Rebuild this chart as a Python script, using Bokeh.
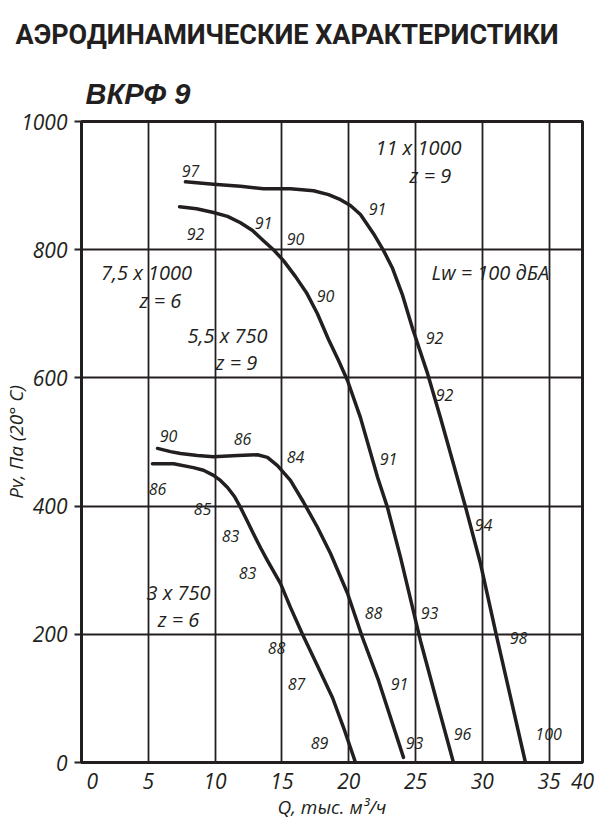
from bokeh.plotting import figure
from bokeh.models import Label, FixedTicker, Range1d, Title
from bokeh.embed import file_html
from bokeh.resources import INLINE

# ---- data (Q in thousand m3/h, Pv in Pa) ----
q_a = [7.78, 9.88, 11.9, 13.62, 15.64, 17.37, 18.49, 19.39, 20.13, 20.88, 21.86, 22.60, 23.28, 24.03,
       24.78, 25.90, 26.87, 28.74, 29.87, 31.06, 33.23]
p_a = [906, 902, 899, 895, 895, 892, 886, 878, 869, 855, 825, 799, 771, 729,
       677, 607, 538, 399, 310, 198, 0]

q_b = [7.34, 8.61, 9.88, 10.93, 11.90, 12.80, 13.62, 14.37, 15.12, 16.02, 16.84, 17.66, 18.49, 19.24,
       19.91, 20.88, 22.16, 22.90, 23.88, 25.37, 26.57, 27.84]
p_b = [867, 864, 858, 852, 842, 830, 814, 800, 783, 758, 733, 700, 660, 627,
       596, 538, 445, 398, 320, 190, 97, 0]

q_c = [5.69, 6.66, 7.41, 8.68, 9.88, 11.68, 13.17, 13.92, 14.67, 15.64, 16.62, 17.66, 18.64, 19.91,
       21.03, 22.23, 24.10]
p_c = [490, 485, 482, 479, 477, 479, 480, 476, 463, 440, 406, 367, 326, 264,
       195, 128, 8]

q_d = [5.31, 6.89, 8.38, 9.13, 9.88, 10.40, 10.93, 11.45, 11.90, 12.35, 12.87, 13.40, 13.92, 14.90,
       15.64, 16.54, 17.66, 18.79, 19.69, 20.51]
p_d = [466, 466, 460, 456, 448, 440, 429, 415, 398, 379, 357, 335, 315, 279,
       242, 200, 151, 101, 50, 0]

lw_text = ["97", "92", "91", "90", "90", "91", "92", "92", "91", "94", "93", "98", "96", "100",
           "90", "86", "84", "88", "91", "93",
           "86", "85", "83", "83", "88", "87", "89"]
lw_q = [8.16, 8.53, 13.62, 16.02, 18.26, 22.16, 26.42, 27.17, 22.98, 30.09, 26.05, 32.71, 28.52, 34.96,
        6.51, 12.05, 16.02, 21.86, 23.80, 24.93,
        5.69, 9.06, 11.15, 12.43, 14.60, 16.09, 17.81]
lw_p = [922, 825, 842, 817, 727, 864, 663, 573, 473, 371, 234, 195, 45, 45,
        510, 505, 476, 234, 123, 31,
        427, 396, 354, 295, 179, 123, 31]

fan_text = ["11 x 1000", "z = 9", "Lw = 100 дБА", "7,5 x 1000", "z = 6", "5,5 x 750", "z = 9", "3 x 750", "z = 6"]
fan_q = [25.22, 26.12, 30.61, 4.87, 5.91, 10.93, 11.60, 7.26, 7.26]
fan_p = [959, 916, 764, 764, 721, 666, 624, 265, 223]

x_ticks = [0.8, 5, 10, 15, 20, 25, 30, 35, 37.5]
x_tick_labels = {0.8: "0", 37.5: "40"}
x_grid = [5, 10, 15, 20, 25, 30, 35]
y_ticks = [0, 200, 400, 600, 800, 1000]
y_grid = [200, 400, 600, 800]

title_text = "АЭРОДИНАМИЧЕСКИЕ ХАРАКТЕРИСТИКИ"
subtitle_text = "ВКРФ 9"
x_label = "Q, тыс. м³/ч"
y_label = "Pv, Па (20° C)"

INK = "#231f20"
FONT = "Open Sans"

FL, FR, FT, FB = 81, 18, 121, 60
FW, FH = 501, 641

p = figure(frame_width=FW, frame_height=FH, output_backend="svg", toolbar_location=None,
           x_range=Range1d(0, 37.5), y_range=Range1d(0, 1000),
           min_border_left=FL, min_border_right=FR, min_border_top=FT, min_border_bottom=FB)
p.background_fill_color = "white"
p.border_fill_color = "white"
p.outline_line_color = INK
p.outline_line_width = 3

p.xaxis.ticker = FixedTicker(ticks=x_ticks)
p.xaxis.major_label_overrides = x_tick_labels
p.yaxis.ticker = FixedTicker(ticks=y_ticks)
for ax in (p.xaxis, p.yaxis):
    ax.axis_line_color = INK
    ax.axis_line_width = 3
    ax.minor_tick_line_color = None
    ax.major_label_text_font = FONT
    ax.major_label_text_font_style = "italic"
    ax.major_label_text_font_size = "21px"
    ax.major_label_text_color = INK
    ax.axis_label_text_font = FONT
    ax.axis_label_text_font_style = "italic"
    ax.axis_label_text_font_size = "19px"
    ax.axis_label_text_color = INK
p.xaxis.axis_label = x_label
p.yaxis.axis_label = y_label
p.xaxis.major_tick_line_color = None
p.xaxis.major_tick_out = 0
p.xaxis.major_label_standoff = 10
p.xaxis.axis_label_standoff = 2
p.yaxis.major_tick_line_color = INK
p.yaxis.major_tick_line_width = 2
p.yaxis.major_tick_out = 7
p.yaxis.major_tick_in = 0
p.yaxis.major_label_standoff = 7
p.yaxis.axis_label_standoff = -11

p.xgrid.ticker = FixedTicker(ticks=x_grid)
p.ygrid.ticker = FixedTicker(ticks=y_grid)
for g in (p.xgrid, p.ygrid):
    g.grid_line_color = INK
    g.grid_line_width = 1.8
    g.grid_line_alpha = 1.0

for q, pv in ((q_a, p_a), (q_b, p_b), (q_c, p_c), (q_d, p_d)):
    p.line(q, pv, line_color=INK, line_width=3.5, line_cap="round", line_join="round")

for t, q, pv in zip(lw_text, lw_q, lw_p):
    p.add_layout(Label(x=q, y=pv, text=t, text_font=FONT, text_font_style="italic",
                       text_font_size="16px", text_color=INK, text_align="center",
                       text_baseline="middle"))

for t, q, pv in zip(fan_text, fan_q, fan_p):
    p.add_layout(Label(x=q, y=pv, text=t, text_font=FONT, text_font_style="italic",
                       text_font_size="20px", text_color=INK, text_align="center",
                       text_baseline="middle"))

# titles (subtitle first: closest to the frame)
p.add_layout(Title(text=subtitle_text, align="left", offset=4, standoff=23,
                   text_font="Liberation Sans", text_font_style="bold italic",
                   text_font_size="29px", text_color=INK), "above")
p.add_layout(Title(text=title_text, align="left", offset=-66, standoff=27,
                   text_font="Roboto", text_font_style="bold",
                   text_font_size="27px", text_color=INK), "above")

open("out.html", "w").write(file_html(p, INLINE))
